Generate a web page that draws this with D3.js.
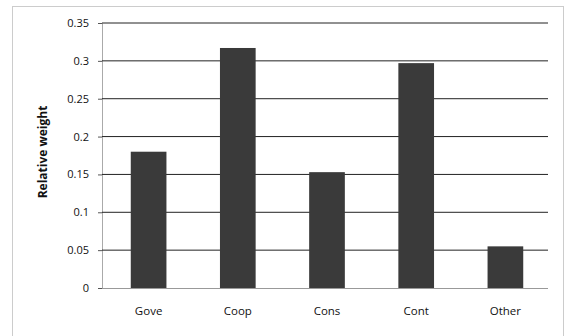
<!DOCTYPE html>
<html><head><meta charset="utf-8">
<script src="https://cdn.jsdelivr.net/npm/d3@7/dist/d3.min.js"></script>
<style>body{margin:0;background:#fff}svg{display:block}</style>
</head><body>
<script>
const categories = ["Gove","Coop","Cons","Cont","Other"];
const values = [0.18, 0.317, 0.153, 0.297, 0.055];
const yTicks = [0,0.05,0.1,0.15,0.2,0.25,0.3,0.35];
const yLabel = "Relative weight";

const W=565,H=336;
const svg=d3.select("body").append("svg").attr("width",W).attr("height",H);
svg.append("rect").attr("x",12.5).attr("y",6.5).attr("width",551).attr("height",340)
  .attr("fill","#fff").attr("stroke","#999").attr("stroke-dasharray","1,1");
const m={l:102,r:548,t:23,b:288};
const x=d3.scaleBand().domain(categories).range([m.l+2,m.r+2]).paddingInner(0.6).paddingOuter(0.3);
const y=d3.scaleLinear().domain([0,0.35]).range([m.b,m.t]);

const ya=svg.append("g").attr("transform",`translate(${m.l},0)`)
  .call(d3.axisLeft(y).tickValues(yTicks).tickSize(4).tickPadding(9).tickFormat(d=>d===0?"0":String(+d.toFixed(2))));
ya.select(".domain").attr("stroke","#aaa");
ya.selectAll(".tick line").attr("stroke","#555");
ya.selectAll("text").attr("font-family","'Open Sans',sans-serif").attr("font-size",11).attr("fill","#111");

svg.append("g").selectAll("line").data(yTicks.filter(d=>d>0)).join("line")
  .attr("x1",m.l).attr("x2",m.r).attr("y1",d=>y(d)).attr("y2",d=>y(d))
  .attr("stroke","#222").attr("stroke-width",1);

svg.append("g").selectAll("rect").data(categories).join("rect")
  .attr("x",d=>x(d)).attr("width",x.bandwidth())
  .attr("y",(d,i)=>y(values[i])).attr("height",(d,i)=>y(0)-y(values[i]))
  .attr("fill","#3a3a3a");

const xa=svg.append("g").attr("transform",`translate(0,${m.b})`)
  .call(d3.axisBottom(x).tickSize(0).tickPadding(19));
xa.select(".domain").attr("stroke","#999").attr("d",`M${m.l},0.5H${m.r}`);
xa.selectAll("text").attr("font-family","'Open Sans',sans-serif").attr("font-size",11.5).attr("fill","#111");

svg.append("text").attr("transform","translate(47,152) rotate(-90)").attr("text-anchor","middle")
  .attr("font-family","'Open Sans',sans-serif").attr("font-weight","bold").attr("font-size",12).attr("fill","#111")
  .text(yLabel);
</script>
</body></html>
